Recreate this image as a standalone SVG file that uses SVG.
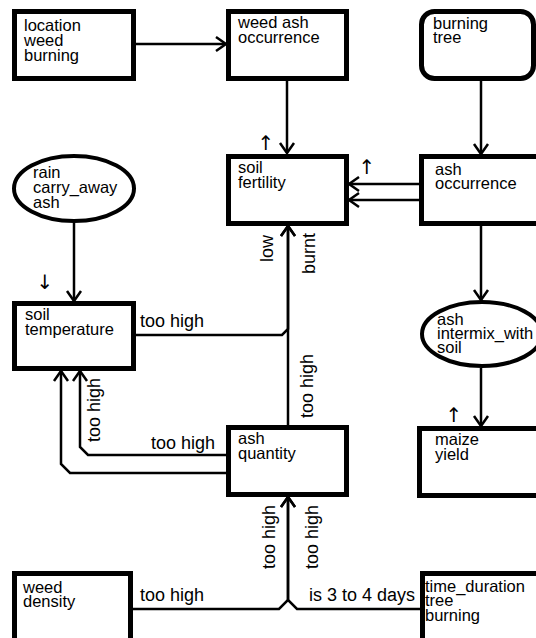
<svg xmlns="http://www.w3.org/2000/svg" width="536" height="638" viewBox="0 0 536 638">
<defs>
<marker id="ah" markerUnits="userSpaceOnUse" markerWidth="24" markerHeight="24" viewBox="-12 -12 24 24" refX="0" refY="0" orient="auto">
<path d="M-10,-7 L0,0 L-10,7" fill="none" stroke="#000" stroke-width="2.5"/>
</marker>
<style>
.box{fill:#fff;stroke:#000;stroke-width:5}
.t{font-family:"Liberation Sans",Arial,sans-serif;font-size:16.5px;fill:#000}
.l{font-family:"Liberation Sans",Arial,sans-serif;font-size:18px;fill:#000}
.s{font-family:"DejaVu Sans",sans-serif;font-size:20px;fill:#000;text-anchor:middle}
.c{fill:none;stroke:#000;stroke-width:2.5;marker-end:url(#ah)}
</style>
</defs>
<rect width="536" height="638" fill="#fff"/>
<g id="connectors">
<path class="c" d="M136,44 H226"/>
<path class="c" d="M287,81 V153"/>
<path class="c" d="M481,81 V154"/>
<path class="c" d="M419,184 H349"/>
<path class="c" d="M419,200 H349"/>
<path class="c" d="M481,225 V300"/>
<path class="c" d="M481,368 V426"/>
<path class="c" d="M74,223 V301"/>
<path class="c" d="M136,335 H282 L288,329 V226"/>
<path class="c" d="M288,425 V226"/>
<path class="c" d="M226,455 H88 L80,447 V371"/>
<path class="c" d="M226,473 H70 L61,464 V371"/>
<path class="c" d="M133,609 H279 L288,600 V497"/>
<path class="c" d="M420,609 H297 L288,600 V497"/>
<text class="l" x="140" y="327">too high</text>
<text class="l" x="151" y="449">too high</text>
<text class="l" x="140" y="601">too high</text>
<text class="l" x="309" y="601">is 3 to 4 days</text>
<text class="l" transform="translate(273,262) rotate(-90)">low</text>
<text class="l" transform="translate(315,274) rotate(-90)">burnt</text>
<text class="l" transform="translate(313,418) rotate(-90)">too high</text>
<text class="l" transform="translate(100,442) rotate(-90)">too high</text>
<text class="l" transform="translate(275,569) rotate(-90)">too high</text>
<text class="l" transform="translate(318,569) rotate(-90)">too high</text>
<text class="s" x="266" y="150">↑</text>
<text class="s" x="367" y="174">↑</text>
<text class="s" x="45" y="289">↓</text>
<text class="s" x="454" y="422">↑</text>
</g>
<g id="location_weed_burning">
<rect class="box" x="14.5" y="11.5" width="119" height="67"/>
<text class="t" x="24" y="31">location</text>
<text class="t" x="24" y="46">weed</text>
<text class="t" x="24" y="61">burning</text>
</g>
<g id="weed_ash_occurrence">
<rect class="box" x="228.5" y="11.5" width="118" height="67"/>
<text class="t" x="238" y="28">weed ash</text>
<text class="t" x="238" y="43">occurrence</text>
</g>
<g id="burning_tree">
<rect class="box" x="421.5" y="11.5" width="112" height="67" rx="13"/>
<text class="t" x="433" y="29">burning</text>
<text class="t" x="433" y="43">tree</text>
</g>
<g id="soil_fertility">
<rect class="box" x="228.5" y="156.5" width="118" height="67"/>
<text class="t" x="238" y="173">soil</text>
<text class="t" x="238" y="188">fertility</text>
</g>
<g id="ash_occurrence">
<rect class="box" x="421.5" y="156.5" width="120" height="67"/>
<text class="t" x="435" y="175">ash</text>
<text class="t" x="435" y="189">occurrence</text>
</g>
<g id="rain_carry_away_ash">
<ellipse class="box" cx="74" cy="188.5" rx="60" ry="32.5" style="stroke-width:4"/>
<text class="t" x="33" y="178">rain</text>
<text class="t" x="33" y="193">carry_away</text>
<text class="t" x="33" y="208">ash</text>
</g>
<g id="soil_temperature">
<rect class="box" x="14.5" y="303.5" width="119" height="65"/>
<text class="t" x="25" y="320">soil</text>
<text class="t" x="25" y="335">temperature</text>
</g>
<g id="ash_intermix_with_soil">
<ellipse class="box" cx="482" cy="334" rx="60" ry="32" style="stroke-width:4"/>
<text class="t" x="437" y="325">ash</text>
<text class="t" x="437" y="339">intermix_with</text>
<text class="t" x="437" y="353">soil</text>
</g>
<g id="ash_quantity">
<rect class="box" x="228.5" y="427.5" width="118" height="67"/>
<text class="t" x="238" y="444">ash</text>
<text class="t" x="238" y="459">quantity</text>
</g>
<g id="maize_yield">
<rect class="box" x="419.5" y="428.5" width="122" height="67"/>
<text class="t" x="435" y="445">maize</text>
<text class="t" x="435" y="460">yield</text>
</g>
<g id="weed_density">
<rect class="box" x="14.5" y="573.5" width="116" height="70"/>
<text class="t" x="23" y="593">weed</text>
<text class="t" x="23" y="607">density</text>
</g>
<g id="time_duration_tree_burning">
<rect class="box" x="422.5" y="573.5" width="120" height="70"/>
<text class="t" x="425" y="592">time_duration</text>
<text class="t" x="425" y="606">tree</text>
<text class="t" x="425" y="621">burning</text>
</g>
</svg>
